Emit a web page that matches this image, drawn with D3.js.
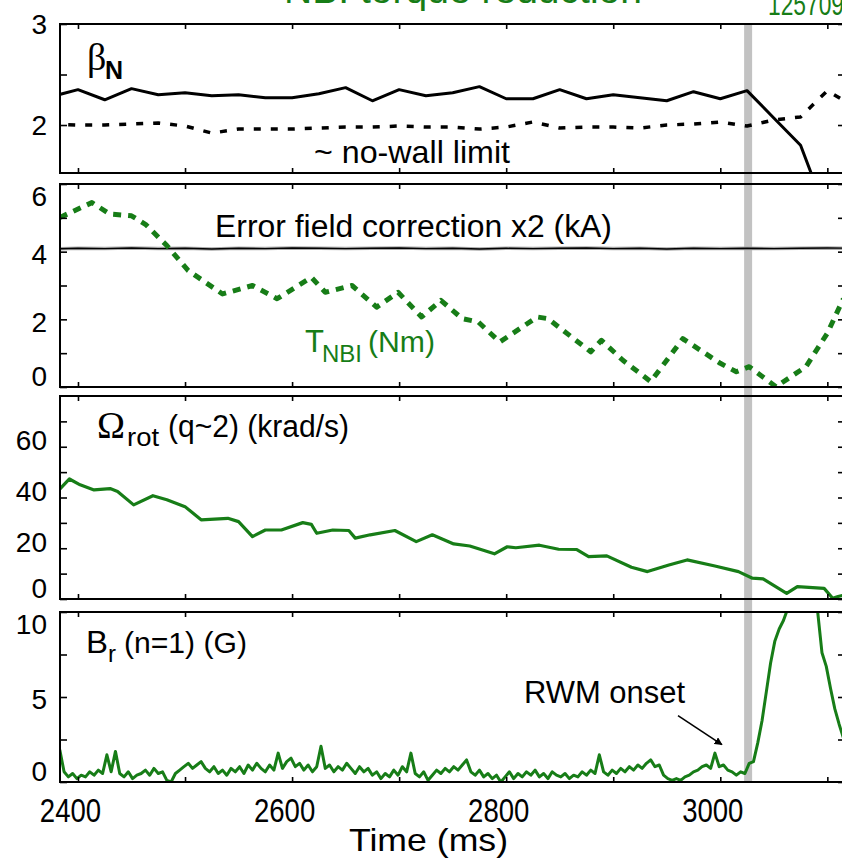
<!DOCTYPE html>
<html>
<head>
<meta charset="utf-8">
<script src="https://cdn.jsdelivr.net/npm/d3@7/dist/d3.min.js"></script>
<style>
  body { margin: 0; background: #fff; }
  svg { display: block; font-family: "Liberation Sans", Arial, sans-serif; }
</style>
</head>
<body>
<svg id="chart" width="842" height="864"></svg>
<script>
// ---- data ----
const timeTicks = [2400, 2500, 2600, 2700, 2800, 2900, 3000, 3100];
const timeLabels = [2400, 2600, 2800, 3000];
const rwmOnset = 3026;

// beta_N and ~no-wall limit (25 ms samples)
const betaTime = [2375, 2400, 2425, 2450, 2475, 2500, 2525, 2550, 2575, 2600, 2625, 2650, 2675, 2700, 2725,
                  2750, 2775, 2800, 2825, 2850, 2875, 2900, 2925, 2950, 2975, 3000, 3025, 3050, 3075, 3100, 3125];
const betaN = [2.28, 2.35, 2.25, 2.36, 2.30, 2.32, 2.29, 2.30, 2.27, 2.27, 2.31, 2.37, 2.24, 2.35, 2.29,
               2.32, 2.38, 2.26, 2.26, 2.35, 2.26, 2.30, 2.27, 2.24, 2.33, 2.26, 2.34, 2.07, 1.80, 1.10, 0.40];
const noWall = [2.01, 2.00, 2.00, 2.01, 2.02, 1.99, 1.92, 1.96, 1.96, 1.96, 1.97, 1.98, 1.98, 1.99, 1.98,
                1.98, 1.96, 1.98, 2.03, 1.97, 1.98, 1.98, 1.97, 2.00, 2.01, 2.03, 1.99, 2.05, 2.08, 2.34, 2.18];

// error field correction x2 (kA)
const efcTime = [2375, 2400, 2425, 2450, 2475, 2500, 2525, 2550, 2575, 2600, 2625, 2650, 2675, 2700, 2725,
                 2750, 2775, 2800, 2825, 2850, 2875, 2900, 2925, 2950, 2975, 3000, 3025, 3050, 3075, 3100, 3125];
const efc = [4.08, 4.10, 4.09, 4.11, 4.09, 4.10, 4.08, 4.10, 4.09, 4.11, 4.10, 4.09, 4.10, 4.11, 4.09,
             4.10, 4.08, 4.10, 4.09, 4.10, 4.11, 4.09, 4.10, 4.08, 4.10, 4.09, 4.10, 4.09, 4.10, 4.11, 4.10];

// T_NBI (Nm)
const tnbiTime = [2383, 2413, 2430, 2450, 2463, 2483, 2503, 2535, 2563, 2586, 2618, 2631, 2656, 2679, 2699,
                  2721, 2739, 2759, 2774, 2794, 2829, 2839, 2879, 2889, 2909, 2935, 2950, 2965, 3000, 3015,
                  3027, 3052, 3080, 3100, 3115];
const tnbi = [5.01, 5.45, 5.11, 5.06, 4.81, 4.18, 3.44, 2.75, 3.00, 2.61, 3.24, 2.80, 3.00, 2.36, 2.80,
              2.07, 2.56, 2.02, 1.92, 1.33, 2.07, 2.02, 1.04, 1.38, 0.79, 0.16, 0.79, 1.43, 0.70, 0.45,
              0.60, 0.01, 0.60, 1.59, 2.61];

// Omega_rot (q~2) (krad/s)
const omegaTime = [2383, 2392, 2402, 2415, 2430, 2437, 2452, 2470, 2483, 2500, 2515, 2540, 2550, 2563, 2575,
                   2590, 2610, 2618, 2623, 2638, 2653, 2659, 2673, 2696, 2716, 2731, 2751, 2766, 2789, 2801,
                   2809, 2831, 2849, 2866, 2877, 2894, 2917, 2932, 2952, 2969, 2995, 3017, 3030, 3040, 3062,
                   3072, 3097, 3105, 3110, 3115];
const omega = [43.3, 47.3, 45.0, 43.0, 43.5, 42.4, 37.1, 40.7, 39.1, 36.4, 31.2, 31.8, 30.5, 24.6, 27.2,
               27.2, 30.1, 29.4, 25.9, 27.2, 27.0, 24.0, 25.3, 27.0, 22.6, 25.3, 21.7, 20.9, 17.8, 20.6,
               20.2, 21.2, 19.6, 19.5, 16.7, 17.0, 12.5, 10.8, 13.4, 15.4, 13.0, 10.8, 8.2, 7.9, 2.2,
               4.9, 4.2, 0.3, 1.0, 1.5];

// B_r (n=1) (G), sampled every 4 ms from 2383 ms
const brStart = 2383, brStep = 4;
const br = [
  1.9, 0.6, 0.3, 0.5, 0.2, 0.4, 0.3, 0.6, 0.4, 0.7,
  0.5, 1.6, 0.6, 1.8, 0.5, 0.3, 0.6, 0.2, 0.4, 0.5,
  0.7, 0.4, 0.8, 0.5, 0.6, 0.1, 0.0, 0.5, 0.7, 0.9,
  1.1, 0.8, 1.0, 1.2, 0.8, 0.6, 0.9, 0.5, 0.7, 0.4,
  0.8, 0.6, 0.9, 0.5, 1.0, 0.7, 1.1, 0.8, 0.6, 1.0,
  0.7, 1.7, 0.8, 1.2, 1.4, 0.9, 1.1, 0.7, 1.0, 0.6,
  0.9, 2.1, 0.8, 1.0, 0.6, 0.9, 0.7, 1.1, 0.8, 0.5,
  0.9, 0.6, 0.8, 0.4, 0.6, 0.2, 0.5, 0.3, 0.7, 0.4,
  0.9, 0.6, 1.7, 0.5, 0.3, 0.6, 0.1, 0.4, 0.7, 0.5,
  0.8, 0.6, 0.9, 0.7, 1.0, 1.3, 0.6, 0.4, 0.7, 0.3,
  0.5, 0.2, 0.4, 0.0, 0.3, 0.6, 0.2, 0.5, 0.3, 0.6,
  0.4, 0.7, 0.3, 0.5, 0.2, 0.6, 0.4, 0.3, 0.5, 0.2,
  0.4, 0.3, 0.6, 0.4, 0.7, 0.5, 1.6, 0.6, 0.4, 0.7,
  0.5, 0.8, 0.6, 0.9, 0.7, 1.0, 0.8, 1.1, 1.3, 0.9,
  1.0, 0.4, 0.2, 0.1, 0.2, 0.1, 0.3, 0.4, 0.6, 0.7,
  0.9, 1.0, 0.8, 1.7, 0.9, 1.0, 0.7, 0.6, 0.4, 0.6,
  0.5, 1.1, 1.2, 2.3, 3.6, 5.3, 7.0, 8.3, 9.0, 9.5,
  10.2, 11.0, 11.6, 12.0, 12.2, 12.0, 11.4, 10.0, 7.6, 6.8,
  5.5, 4.3, 3.4, 2.6, 2.0
];
const brTime = br.map((d, i) => brStart + i * brStep);

// ---- layout ----
const svg = d3.select("svg#chart");
const green = "#177d17";
const left = 60, right = 845;

const x = d3.scaleLinear().domain([2383.2, 3116.5]).range([left, right]);

const panels = [
  {top: 24, bottom: 173, domain: [1.525, 3], ticks: [2, 2.5, 3], labels: [2, 3], nudge: 0, clamp: false},
  {top: 184, bottom: 387, domain: [0, 6], ticks: [0, 1, 2, 3, 4, 5, 6], labels: [0, 2, 4, 6], nudge: 2, clamp: true},
  {top: 396, bottom: 599, domain: [0, 80], ticks: [0, 10, 20, 30, 40, 50, 60, 70], labels: [0, 20, 40, 60], nudge: -7, clamp: true},
  {top: 612, bottom: 782, domain: [0, 10], ticks: [0, 2.5, 5, 7.5, 10], labels: [0, 5, 10], nudge: 2, clamp: true}
];
panels.forEach(p => p.y = d3.scaleLinear().domain(p.domain).range([p.bottom, p.top]));

const series = [
  {panel: 0, t: betaTime, v: betaN, color: "#000", width: 3},
  {panel: 0, t: betaTime, v: noWall, color: "#000", width: 3.5, dash: "7,10"},
  {panel: 1, t: efcTime, v: efc, color: "#aaa", width: 3.5},
  {panel: 1, t: efcTime, v: efc, color: "#000", width: 1.4},
  {panel: 1, t: tnbiTime, v: tnbi, color: green, width: 5, dash: "8,7"},
  {panel: 2, t: omegaTime, v: omega, color: green, width: 3.2},
  {panel: 3, t: brTime, v: br, color: green, width: 3}
];

const defs = svg.append("defs");
defs.append("marker")
    .attr("id", "arrow")
    .attr("viewBox", "0 0 10 10")
    .attr("refX", 9).attr("refY", 5)
    .attr("markerWidth", 5).attr("markerHeight", 5)
    .attr("orient", "auto")
    .append("path")
    .attr("d", "M0,0 L10,5 L0,10 z")
    .attr("fill", "#000");

// RWM onset band (behind everything)
svg.append("rect")
   .attr("x", x(rwmOnset) - 4)
   .attr("y", panels[0].top)
   .attr("width", 8)
   .attr("height", panels[3].bottom - panels[0].top)
   .attr("fill", "#c2c2c2");

panels.forEach((p, i) => {
  defs.append("clipPath").attr("id", "clip" + i)
      .append("rect")
      .attr("x", left).attr("y", p.top)
      .attr("width", right - left).attr("height", p.bottom - p.top);
});

series.forEach(s => {
  const p = panels[s.panel];
  const pts = s.t.map((t, i) => ({t: t, v: s.v[i]}));
  const line = d3.line().x(d => x(d.t)).y(d => p.y(d.v));
  svg.append("path")
     .datum(pts)
     .attr("clip-path", `url(#clip${s.panel})`)
     .attr("fill", "none")
     .attr("stroke", s.color)
     .attr("stroke-width", s.width)
     .attr("stroke-linejoin", "round")
     .attr("stroke-dasharray", s.dash || null)
     .attr("d", line);
});

// axes and frames
panels.forEach((p, i) => {
  const g = svg.append("g");

  g.append("g").attr("transform", `translate(0,${p.top})`)
   .call(d3.axisTop(x).tickValues(timeTicks).tickSizeInner(-5).tickSizeOuter(0).tickFormat(""));

  const bottomAxis = g.append("g").attr("transform", `translate(0,${p.bottom})`)
   .call(d3.axisBottom(x).tickValues(timeTicks).tickSizeInner(-5).tickSizeOuter(0)
           .tickFormat(d => (i === 3 && timeLabels.includes(d)) ? d : ""));
  bottomAxis.selectAll("text")
      .attr("y", 40).attr("dy", 0)
      .attr("transform", "translate(-8,0) scale(0.81,1)")
      .style("font-size", "34px");

  const leftAxis = g.append("g").attr("transform", `translate(${left},0)`)
   .call(d3.axisLeft(p.y).tickValues(p.ticks).tickSizeInner(-7).tickSizeOuter(0).tickPadding(13)
           .tickFormat(d => p.labels.includes(d) ? d : ""));
  leftAxis.selectAll("text")
      .style("font-size", "28px")
      .attr("dy", "0.35em")
      .attr("transform", d => {
        let yy = p.y(d) + p.nudge;
        if (p.clamp) yy = Math.max(p.top + 12, Math.min(p.bottom - 11, yy));
        return `translate(0,${yy - p.y(d)})`;
      });

  g.append("g").attr("transform", `translate(${right},0)`)
   .call(d3.axisRight(p.y).tickValues(p.ticks).tickSizeInner(-7).tickSizeOuter(0).tickFormat(""));

  g.selectAll(".domain").remove();
  g.selectAll(".tick line").attr("stroke", "#000").attr("stroke-width", 1.6);

  g.append("rect")
   .attr("x", left).attr("y", p.top)
   .attr("width", right - left).attr("height", p.bottom - p.top)
   .attr("fill", "none").attr("stroke", "#000").attr("stroke-width", 2);
});

// ---- text labels ----
const sans = "'Liberation Sans', Arial, sans-serif";
const serif = "'Liberation Serif', 'DejaVu Serif', serif";

function label(xp, yp, str, size, opts) {
  opts = opts || {};
  const t = svg.append("text")
     .attr("x", xp).attr("y", yp)
     .attr("fill", opts.color || "#000")
     .style("font-family", opts.family || sans)
     .style("font-size", size + "px")
     .style("font-weight", opts.weight || "normal")
     .text(str);
  if (opts.len) t.attr("textLength", opts.len).attr("lengthAdjust", "spacingAndGlyphs");
  return t;
}

// clipped title and shot number at top
label(284, 3, "NBI torque reduction", 38, {color: green, len: 358});
label(768, 15, "125709", 31, {color: green, len: 76});

// panel 1
label(87, 70, "β", 38, {family: serif});
label(105, 79, "N", 25, {weight: "bold"});
label(314, 163, "~ no-wall limit", 32, {len: 196});

// panel 2
label(215, 237, "Error field correction x2 (kA)", 31, {len: 397});
label(305, 352, "T", 31, {color: green});
label(322, 362, "NBI", 24, {color: green, len: 40});
label(368, 352, "(Nm)", 30, {color: green, len: 67});

// panel 3
label(97, 438, "Ω", 38, {family: serif, len: 28});
label(127, 446, "rot", 26, {len: 32});
label(168, 437, "(q~2) (krad/s)", 31, {len: 181});

// panel 4
label(86, 653, "B", 31, {len: 22});
label(108, 662, "r", 24);
label(124, 653, "(n=1) (G)", 30, {len: 123});
label(524, 703, "RWM onset", 31, {len: 161});

const y4 = panels[3].y;
svg.append("line")
   .attr("x1", x(2960.5)).attr("y1", y4(3.9))
   .attr("x2", x(3001.5)).attr("y2", y4(2.2))
   .attr("stroke", "#000").attr("stroke-width", 1.6)
   .attr("marker-end", "url(#arrow)");

// x axis title
label(349, 851, "Time (ms)", 32, {len: 159});
</script>
</body>
</html>
